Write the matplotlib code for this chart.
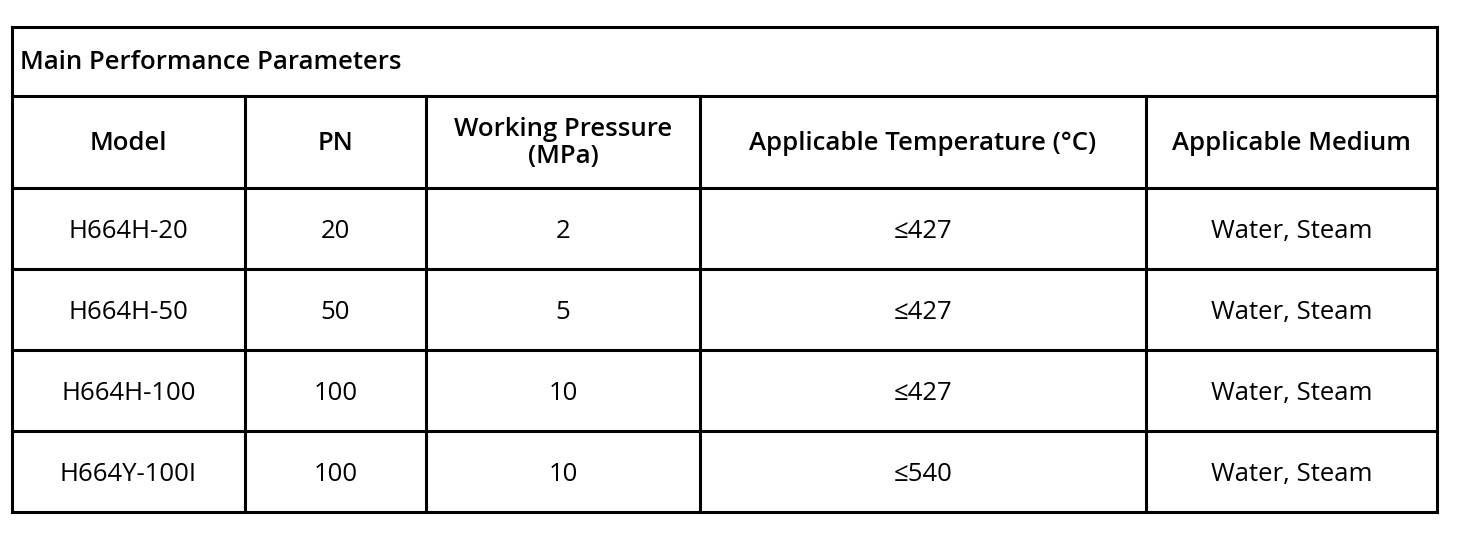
import matplotlib
matplotlib.use("Agg")
import matplotlib.pyplot as plt

plt.rcParams['font.family'] = ['Open Sans', 'Noto Sans CJK SC', 'DejaVu Sans']

title = "Main Performance Parameters"
headers = ["Model", "PN", "Working Pressure\n(MPa)", "Applicable Temperature (°C)", "Applicable Medium"]
models = ["H664H-20", "H664H-50", "H664H-100", "H664Y-100I"]
pn = ["20", "50", "100", "100"]
pressure = ["2", "5", "10", "10"]
temperature = ["≤427", "≤427", "≤427", "≤540"]
medium = ["Water, Steam"] * 4

col_x = [12, 245, 426, 700, 1146, 1437]
row_y = [27, 96, 188, 269, 350, 431, 512]

fig = plt.figure(figsize=(14.64, 5.37), dpi=100)
ax = fig.add_axes([0, 0, 1, 1])
ax.set_xlim(0, 1464)
ax.set_ylim(537, 0)
ax.axis('off')

lw = 2.2
L, R = col_x[0], col_x[-1]
for y in row_y:
    ax.plot([L, R], [y, y], color='black', lw=lw, solid_capstyle='projecting')
ax.plot([L, L], [row_y[0], row_y[-1]], color='black', lw=lw)
ax.plot([R, R], [row_y[0], row_y[-1]], color='black', lw=lw)
for x in col_x[1:-1]:
    ax.plot([x, x], [row_y[1], row_y[-1]], color='black', lw=lw)

fs = 18.5
dy = 3
ax.text(20, (row_y[0] + row_y[1]) / 2 + 1, title, ha='left', va='center', fontsize=fs, fontweight=600)
for i, h in enumerate(headers):
    cx = (col_x[i] + col_x[i + 1]) / 2
    ax.text(cx, (row_y[1] + row_y[2]) / 2 + 1, h, ha='center', va='center', fontsize=fs,
            fontweight=600, linespacing=1.15)
cols = [models, pn, pressure, temperature, medium]
for r in range(4):
    cy = (row_y[r + 2] + row_y[r + 3]) / 2 + dy
    for i, c in enumerate(cols):
        cx = (col_x[i] + col_x[i + 1]) / 2
        ax.text(cx, cy, c[r], ha='center', va='center', fontsize=fs)

fig.savefig("out.png", dpi=100)
